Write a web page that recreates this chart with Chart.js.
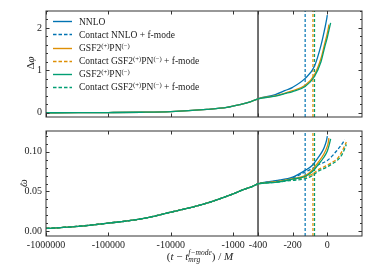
<!DOCTYPE html>
<html>
<head>
<meta charset="utf-8">
<script src="https://cdn.jsdelivr.net/npm/chart.js@4.4.0/dist/chart.umd.min.js"></script>
<style>
body { margin: 0; background: #fff; }
#wrap { position: relative; width: 374px; height: 280px; font-family: 'Liberation Serif', 'DejaVu Serif', serif; color: #222; }
canvas { position: absolute; left: 0; top: 0; }
.ylab { position: absolute; font-size: 11px; transform: translate(-50%, -50%) rotate(-90deg); white-space: nowrap; }
.hat { position: relative; display: inline-block; }
.hat b { position: absolute; left: 1.5px; top: 2px; font-weight: normal; font-style: normal; font-size: 9px; }
#legend { position: absolute; left: 53px; top: 16px; font-size: 9.5px; line-height: 13.1px; white-space: nowrap; }
#legend .row { height: 13.1px; }
#legend svg { vertical-align: middle; margin-right: 7px; position: relative; top: -1px; }
sup { font-size: 70%; line-height: 0; vertical-align: 3.5px; }
#xtitle { position: absolute; left: 200px; top: 250px; transform: translateX(-50%); font-size: 11px; white-space: nowrap; }
#xtitle .ss { display: inline-flex; flex-direction: column; font-size: 7.5px; line-height: 6.5px; vertical-align: 5px; font-style: italic; }
</style>
</head>
<body>
<div id="wrap">
  <canvas id="phi" width="374" height="280"></canvas>
  <canvas id="omega" width="374" height="280"></canvas>
  <div class="ylab" style="left:30px; top:63px;">Δ<i>φ</i></div>
  <div class="ylab" style="left:23px; top:183px;"><span class="hat"><i>ω</i><b>ˆ</b></span></div>
  <div id="legend"></div>
  <div id="xtitle">(<i>t</i> − <i>t</i><span class="ss"><span>f−mode</span><span>mrg</span></span>) / <i>M</i></div>
</div>
<script>
// Axis ticks (t values in M) and labels.
const xTickValues = [-1000000, -100000, -10000, -1000, -400, -200, 0];
const xTickLabels = ['-1000000', '-100000', '-10000', '-1000', '-400', '-200', '0'];
const phiTicks = [0, 1, 2];
const omegaTicks = [0, 0.05, 0.10];

// Legend names and colours.
const seriesNames = [
    'NNLO',
    'Contact NNLO + f-mode',
    'GSF2<sup>(+)</sup>PN<sup>(−)</sup>',
    'Contact GSF2<sup>(+)</sup>PN<sup>(−)</sup> + f-mode',
    'GSF2<sup>(+)</sup>PN<sup>(−)</sup>',
    'Contact GSF2<sup>(+)</sup>PN<sup>(−)</sup> + f-mode'
];
const seriesColors = ['#0173B2', '#0173B2', '#DE8F05', '#DE8F05', '#029E73', '#029E73'];
const seriesDashed = [false, true, false, true, false, true];

// Early inspiral, common to all models (t <= -400).
const tEarly = [-1000000, -300000, -100000, -30000, -10000, -2640, -1265, -785, -550, -400];
const phiEarly = [0.0, 0.002, 0.005, 0.012, 0.028, 0.08, 0.125, 0.19, 0.25, 0.33];
const tEarlyOmega = [-1000000, -300000, -100000, -30000, -10000, -3000, -1000, -700, -500, -400];
const omegaEarly = [0.0035, 0.0062, 0.0102, 0.0155, 0.024, 0.034, 0.047, 0.052, 0.056, 0.0595];

// Late inspiral, delta phi.
const tPhiNNLO = [-300, -246, -200, -128, -75, -36, -17, -8, 0];
const phiNNLO = [0.43, 0.52, 0.60, 0.81, 1.09, 1.60, 1.94, 2.12, 2.30];
const tPhiGsfA = [-300, -246, -200, -128, -75, -36, -17, 0, 5, 9];
const phiGsfA = [0.40, 0.46, 0.52, 0.65, 0.89, 1.29, 1.60, 1.88, 1.98, 2.08];
const tPhiGsfB = [-300, -246, -200, -128, -75, -36, -17, 0, 10, 19];
const phiGsfB = [0.39, 0.45, 0.50, 0.62, 0.85, 1.21, 1.52, 1.78, 1.96, 2.12];

// Late inspiral, omega hat.
const tOmNNLO = [-300, -200, -128, -86, -55, -30, -17, -5, 0];
const omNNLO = [0.0635, 0.068, 0.0765, 0.083, 0.092, 0.100, 0.106, 0.114, 0.1195];
const tOmNNLOc = [-300, -200, -128, -86, -55, 0, 30, 57, 86, 100];
const omNNLOc = [0.063, 0.067, 0.0745, 0.079, 0.083, 0.089, 0.095, 0.102, 0.110, 0.115];
const tOmGsfA = [-300, -200, -128, -86, -55, -20, 0, 5, 9];
const omGsfA = [0.062, 0.066, 0.070, 0.077, 0.086, 0.097, 0.107, 0.111, 0.117];
const tOmGsfAc = [-300, -200, -128, -86, -55, 0, 30, 57, 86, 110];
const omGsfAc = [0.062, 0.065, 0.068, 0.072, 0.077, 0.083, 0.087, 0.091, 0.101, 0.112];
const tOmGsfB = [-300, -200, -128, -86, -55, -20, 0, 10, 19];
const omGsfB = [0.0615, 0.0655, 0.069, 0.075, 0.083, 0.093, 0.101, 0.108, 0.116];
const tOmGsfBc = [-300, -200, -128, -86, -55, 0, 30, 57, 86, 110];
const omGsfBc = [0.0615, 0.064, 0.066, 0.070, 0.075, 0.081, 0.085, 0.089, 0.097, 0.109];

// Contact times (dashed verticals) and the axis break.
const contactTimes = [-128, -83, -74];
const contactColors = ['#0173B2', '#DE8F05', '#029E73'];
const breakTime = -400;

// Axis: log in |t| left of -400, linear to the right.
const DECADE = 360;
function u(t) {
    return t >= breakTime ? t : breakTime - DECADE * Math.log10(t / breakTime);
}
const XMIN = u(-1000000);
const XMAX = 200;

function pts(ts, ys) {
    return ts.map((t, i) => ({ x: u(t), y: ys[i] }));
}

function curve(i, ts, ys) {
    return {
        label: seriesNames[i].replace(/<[^>]+>/g, ''),
        data: pts(ts, ys),
        borderColor: seriesColors[i],
        borderWidth: 1.3,
        borderDash: seriesDashed[i] ? [3.5, 2] : [],
        pointRadius: 0,
        cubicInterpolationMode: 'monotone',
        fill: false,
        order: -i  // later series on top, like the reference
    };
}

function vlines(yMin, yMax) {
    let sets = contactTimes.map((t, i) => ({
        data: [{ x: u(t), y: yMin }, { x: u(t), y: yMax }],
        borderColor: contactColors[i],
        borderWidth: 1.2,
        borderDash: [3, 2],
        pointRadius: 0,
        order: 10
    }));
    sets.push({
        data: [{ x: u(breakTime), y: yMin }, { x: u(breakTime), y: yMax }],
        borderColor: '#111',
        borderWidth: 1.2,
        pointRadius: 0,
        order: 10
    });
    return sets;
}

// Frame with inward ticks on all sides.
const frameTicks = {
    id: 'frameTicks',
    afterDraw(chart, args, opts) {
        const { ctx, chartArea: a, scales } = chart;
        ctx.save();
        ctx.strokeStyle = '#333';
        ctx.lineWidth = 1;
        ctx.strokeRect(a.left, a.top, a.right - a.left, a.bottom - a.top);
        ctx.beginPath();
        xTickValues.forEach(t => {
            const px = Math.round(scales.x.getPixelForValue(u(t))) + 0.5;
            ctx.moveTo(px, a.top); ctx.lineTo(px, a.top + 3.5);
            ctx.moveTo(px, a.bottom); ctx.lineTo(px, a.bottom - 3.5);
        });
        const y = scales.y;
        for (let v = opts.minorStart; v <= y.max + 1e-9; v += opts.minor) {
            const major = opts.major.some(m => Math.abs(m - v) < 1e-9);
            const len = major ? 3.5 : 2;
            const py = Math.round(y.getPixelForValue(v)) + 0.5;
            if (py < a.top || py > a.bottom) continue;
            ctx.moveTo(a.left, py); ctx.lineTo(a.left + len, py);
            ctx.moveTo(a.right, py); ctx.lineTo(a.right - len, py);
        }
        ctx.stroke();
        ctx.restore();
    }
};

const tickFont = { family: "'Liberation Serif', 'DejaVu Serif', serif", size: 10 };

function yAxis(min, max, ticks, fmt) {
    return {
        min: min,
        max: max,
        afterFit: s => { s.width = 46; },
        afterBuildTicks: s => { s.ticks = ticks.map(v => ({ value: v })); },
        ticks: { font: tickFont, color: '#222', padding: 4, callback: fmt },
        grid: { display: false, drawTicks: false },
        border: { display: false }
    };
}

// Top panel: delta phi.
new Chart(document.querySelector('#phi'), {
    type: 'line',
    data: {
        datasets: [
            curve(0, tEarly.concat(tPhiNNLO), phiEarly.concat(phiNNLO)),
            curve(2, tEarly.concat(tPhiGsfA), phiEarly.concat(phiGsfA)),
            curve(4, tEarly.concat(tPhiGsfB), phiEarly.concat(phiGsfB)),
            ...vlines(-0.1, 2.4)
        ]
    },
    options: {
        responsive: false,
        animation: false,
        devicePixelRatio: 1,
        layout: { padding: { left: 0, right: 12, top: 11, bottom: 163 } },
        plugins: { legend: { display: false }, tooltip: { enabled: false }, frameTicks: { minorStart: 0, minor: 0.2, major: phiTicks } },
        scales: {
            x: { type: 'linear', min: XMIN, max: XMAX, display: false },
            y: yAxis(-0.1, 2.4, phiTicks, v => String(v))
        }
    },
    plugins: [frameTicks]
});

// Bottom panel: omega hat.
new Chart(document.querySelector('#omega'), {
    type: 'line',
    data: {
        datasets: [
            curve(0, tEarlyOmega.concat(tOmNNLO), omegaEarly.concat(omNNLO)),
            curve(1, tEarlyOmega.concat(tOmNNLOc), omegaEarly.concat(omNNLOc)),
            curve(2, tEarlyOmega.concat(tOmGsfA), omegaEarly.concat(omGsfA)),
            curve(3, tEarlyOmega.concat(tOmGsfAc), omegaEarly.concat(omGsfAc)),
            curve(4, tEarlyOmega.concat(tOmGsfB), omegaEarly.concat(omGsfB)),
            curve(5, tEarlyOmega.concat(tOmGsfBc), omegaEarly.concat(omGsfBc)),
            ...vlines(-0.006, 0.126)
        ]
    },
    options: {
        responsive: false,
        animation: false,
        devicePixelRatio: 1,
        layout: { padding: { left: 0, right: 12, top: 131, bottom: 0 } },
        plugins: { legend: { display: false }, tooltip: { enabled: false }, frameTicks: { minorStart: 0, minor: 0.01, major: omegaTicks } },
        scales: {
            x: {
                type: 'linear',
                min: XMIN,
                max: XMAX,
                afterFit: s => { s.height = 44; },
                afterBuildTicks: s => { s.ticks = xTickValues.map(t => ({ value: u(t) })); },
                ticks: { font: tickFont, color: '#222', padding: 3, maxRotation: 0, autoSkip: false,
                         callback: (v, i) => xTickLabels[i] },
                grid: { display: false, drawTicks: false },
                border: { display: false }
            },
            y: yAxis(-0.006, 0.126, omegaTicks, v => v.toFixed(2))
        }
    },
    plugins: [frameTicks]
});

// Legend built from the series lists.
const legend = document.querySelector('#legend');
let rows = ``;
seriesNames.forEach((name, i) => {
    const dash = seriesDashed[i] ? 'stroke-dasharray="3.5 2"' : '';
    rows += `<div class="row"><svg width="19" height="5"><line x1="0" y1="2.5" x2="19" y2="2.5" stroke="${seriesColors[i]}" stroke-width="1.4" ${dash}/></svg>${name}</div>`;
});
legend.innerHTML = rows;
</script>
</body>
</html>
